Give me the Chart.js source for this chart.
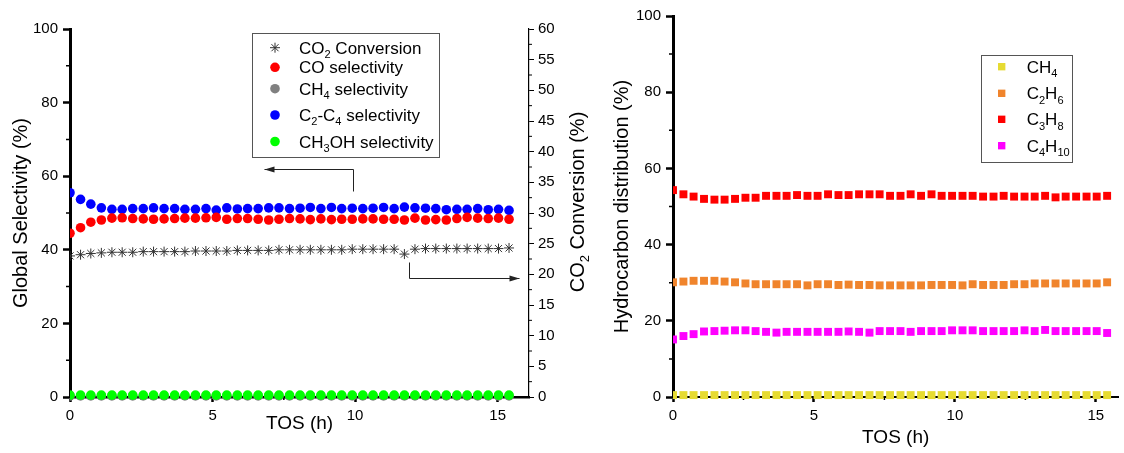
<!DOCTYPE html>
<html>
<head>
<meta charset="utf-8">
<script src="https://cdn.jsdelivr.net/npm/chart.js@4.4.0/dist/chart.umd.min.js"></script>
<style>
  html, body { margin: 0; padding: 0; background: #fff; }
  #wrap { position: relative; width: 1124px; height: 453px; }
  #left-canvas { position: absolute; left: 0; top: 0; }
  #right-canvas { position: absolute; left: 600px; top: 0; }
</style>
</head>
<body>
<div id="wrap">
  <canvas id="left-canvas" width="600" height="453"></canvas>
  <canvas id="right-canvas" width="524" height="453"></canvas>
</div>
<script>
// time on stream (h), one sample every ~22 min
const tos = [0, 0.37, 0.73, 1.1, 1.47, 1.83, 2.2, 2.57, 2.93, 3.3,
  3.67, 4.03, 4.4, 4.77, 5.13, 5.5, 5.87, 6.23, 6.6, 6.97,
  7.33, 7.7, 8.07, 8.43, 8.8, 9.17, 9.53, 9.9, 10.27, 10.63,
  11.0, 11.37, 11.73, 12.1, 12.47, 12.83, 13.2, 13.57, 13.93, 14.3,
  14.67, 15.03, 15.4];

// left panel (%)
const co2Conversion = [23.0, 23.2, 23.4, 23.5, 23.6, 23.6, 23.6, 23.7, 23.7, 23.7,
  23.7, 23.7, 23.8, 23.8, 23.8, 23.8, 23.9, 23.9, 23.9, 23.9,
  24.0, 24.0, 24.0, 24.0, 24.0, 24.0, 24.0, 24.1, 24.1, 24.1,
  24.1, 24.1, 23.3, 24.1, 24.2, 24.2, 24.2, 24.2, 24.2, 24.2,
  24.2, 24.2, 24.3];
const coSel = [44.5, 46.0, 47.5, 48.1, 48.6, 48.7, 48.5, 48.4, 48.3, 48.4,
  48.5, 48.6, 48.6, 48.7, 48.8, 48.3, 48.5, 48.5, 48.3, 48.1,
  48.3, 48.5, 48.4, 48.2, 48.4, 48.2, 48.3, 48.3, 48.4, 48.4,
  48.3, 48.3, 48.1, 48.6, 48.1, 48.2, 48.1, 48.5, 48.8, 48.6,
  48.5, 48.6, 48.3];
const ch4Sel = [0.3, 0.3, 0.3, 0.3, 0.3, 0.3, 0.3, 0.3, 0.3, 0.3,
  0.3, 0.3, 0.3, 0.3, 0.3, 0.3, 0.3, 0.3, 0.3, 0.3,
  0.3, 0.3, 0.3, 0.3, 0.3, 0.3, 0.3, 0.3, 0.3, 0.3,
  0.3, 0.3, 0.3, 0.3, 0.3, 0.3, 0.3, 0.3, 0.3, 0.3,
  0.3, 0.3, 0.3];
const c2c4Sel = [55.5, 53.7, 52.4, 51.4, 51.0, 51.0, 51.2, 51.2, 51.4, 51.2,
  51.2, 51.0, 51.0, 51.2, 50.8, 51.4, 51.1, 51.2, 51.2, 51.4,
  51.4, 51.2, 51.3, 51.5, 51.2, 51.5, 51.2, 51.3, 51.2, 51.3,
  51.5, 51.2, 51.6, 51.4, 51.3, 51.2, 50.9, 51.0, 51.0, 51.2,
  50.9, 51.0, 50.7];
const ch3ohSel = [0.5, 0.5, 0.5, 0.5, 0.5, 0.5, 0.5, 0.5, 0.5, 0.5,
  0.5, 0.5, 0.5, 0.5, 0.5, 0.5, 0.5, 0.5, 0.5, 0.5,
  0.5, 0.5, 0.5, 0.5, 0.5, 0.5, 0.5, 0.5, 0.5, 0.5,
  0.5, 0.5, 0.5, 0.5, 0.5, 0.5, 0.5, 0.5, 0.5, 0.5,
  0.5, 0.5, 0.5];

// right panel (%)
const ch4Dist = [0.5, 0.5, 0.5, 0.5, 0.5, 0.5, 0.5, 0.5, 0.5, 0.5,
  0.5, 0.5, 0.5, 0.5, 0.5, 0.5, 0.5, 0.5, 0.5, 0.5,
  0.5, 0.5, 0.5, 0.5, 0.5, 0.5, 0.5, 0.5, 0.5, 0.5,
  0.5, 0.5, 0.5, 0.5, 0.5, 0.5, 0.5, 0.5, 0.5, 0.5,
  0.5, 0.5, 0.5];
const c2h6Dist = [30.1, 30.3, 30.5, 30.5, 30.5, 30.3, 30.1, 29.8, 29.6, 29.6,
  29.6, 29.6, 29.6, 29.3, 29.6, 29.6, 29.4, 29.5, 29.4, 29.4,
  29.3, 29.3, 29.3, 29.3, 29.3, 29.4, 29.4, 29.4, 29.3, 29.6,
  29.4, 29.4, 29.4, 29.6, 29.6, 29.8, 29.8, 29.8, 29.8, 29.8,
  29.8, 29.8, 30.1];
const c3h8Dist = [54.3, 53.2, 52.6, 52.0, 51.8, 51.8, 52.0, 52.3, 52.3, 52.8,
  52.8, 52.8, 53.0, 52.8, 52.8, 53.2, 53.0, 53.0, 53.2, 53.2,
  53.2, 52.8, 52.8, 53.2, 52.8, 53.2, 52.8, 52.8, 52.8, 52.8,
  52.6, 52.6, 52.8, 52.6, 52.6, 52.6, 52.8, 52.4, 52.6, 52.6,
  52.6, 52.6, 52.8];
const c4h10Dist = [15.1, 16.0, 16.5, 17.2, 17.3, 17.4, 17.5, 17.5, 17.3, 17.1,
  16.9, 17.1, 17.1, 17.1, 17.1, 17.1, 17.1, 17.2, 17.1, 16.9,
  17.3, 17.3, 17.3, 17.1, 17.3, 17.3, 17.3, 17.5, 17.5, 17.5,
  17.3, 17.3, 17.3, 17.3, 17.5, 17.3, 17.6, 17.3, 17.3, 17.3,
  17.3, 17.3, 16.8];

// ticks
const xTicks = [0, 5, 10, 15];
const xMinor = [2.5, 7.5, 12.5];
const pctTicks = [0, 20, 40, 60, 80, 100];
const pctMinor = [10, 30, 50, 70, 90];
const convTicks = [0, 5, 10, 15, 20, 25, 30, 35, 40, 45, 50, 55, 60];
const convMinor = [2.5, 7.5, 12.5, 17.5, 22.5, 27.5, 32.5, 37.5, 42.5, 47.5, 52.5, 57.5];

const FONT = "'Liberation Sans', Arial, Helvetica, sans-serif";
Chart.defaults.font.family = FONT;
Chart.defaults.color = '#000';

const pts = ys => tos.map((t, i) => ({x: t, y: ys[i]}));
const fixTicks = list => scale => { scale.ticks = list.map(v => ({value: v})); };

// text with unicode subscript digits drawn as small lowered digits
const SUBS = '₀₁₂₃₄₅₆₇₈₉';
function runs(text) {
  const out = [];
  for (const ch of text) {
    const k = SUBS.indexOf(ch);
    const sub = k >= 0;
    const c = sub ? String(k) : ch;
    const last = out[out.length - 1];
    if (last && last.sub === sub) last.text += c;
    else out.push({text: c, sub});
  }
  return out;
}
function richWidth(ctx, text, size) {
  let w = 0;
  for (const r of runs(text)) {
    ctx.font = (r.sub ? size * 0.65 : size) + 'px ' + FONT;
    w += ctx.measureText(r.text).width;
  }
  return w;
}
function drawRich(ctx, text, x, y, size) {
  ctx.textAlign = 'left';
  ctx.textBaseline = 'alphabetic';
  let cx = x;
  for (const r of runs(text)) {
    ctx.font = (r.sub ? size * 0.65 : size) + 'px ' + FONT;
    ctx.fillText(r.text, cx, r.sub ? y + size * 0.25 : y);
    cx += ctx.measureText(r.text).width;
  }
}

const minorTicks = {
  id: 'minorTicks',
  beforeDatasetsDraw(chart, args, opts) {
    const ctx = chart.ctx;
    ctx.save();
    ctx.strokeStyle = '#000';
    for (const m of opts.items || []) {
      const s = chart.scales[m.axis];
      ctx.lineWidth = m.width;
      ctx.beginPath();
      m.values.forEach(v => {
        const p = s.getPixelForValue(v);
        if (s.position === 'bottom') { ctx.moveTo(p, s.top); ctx.lineTo(p, s.top + m.length); }
        else if (s.position === 'left') { ctx.moveTo(s.right - m.length, p); ctx.lineTo(s.right, p); }
        else { ctx.moveTo(s.left, p); ctx.lineTo(s.left + m.length, p); }
      });
      ctx.stroke();
    }
    ctx.restore();
  }
};

const boxLegend = {
  id: 'boxLegend',
  afterDatasetsDraw(chart, args, opts) {
    if (!opts.box) return;
    const ctx = chart.ctx;
    const [bx, by, bw, bh] = opts.box;
    ctx.save();
    ctx.fillStyle = '#fff';
    ctx.fillRect(bx, by, bw, bh);
    ctx.strokeStyle = '#555';
    ctx.lineWidth = 1;
    ctx.strokeRect(bx + 0.5, by + 0.5, bw, bh);
    chart.data.datasets.forEach((ds, i) => {
      const y = opts.rows[i];
      ctx.fillStyle = ds.backgroundColor;
      ctx.strokeStyle = ds.borderColor;
      ctx.lineWidth = ds.borderWidth;
      Chart.helpers.drawPoint(ctx, {pointStyle: ds.pointStyle, rotation: 0,
        radius: opts.radius || ds.pointRadius, borderWidth: ds.borderWidth}, opts.markerX, y);
      ctx.fillStyle = '#000';
      drawRich(ctx, ds.label, opts.textX, y + opts.size * 0.36, opts.size);
    });
    ctx.restore();
  }
};

const arrows = {
  id: 'arrows',
  afterDatasetsDraw(chart, args, opts) {
    const ctx = chart.ctx;
    ctx.save();
    ctx.strokeStyle = '#222';
    ctx.fillStyle = '#222';
    ctx.lineWidth = 1;
    for (const a of opts.items || []) {
      const xs = chart.scales.x, ys = chart.scales[a.axis];
      const p = a.path.map(([x, y]) => [Math.round(xs.getPixelForValue(x)) + 0.5, Math.round(ys.getPixelForValue(y)) + 0.5]);
      ctx.beginPath();
      p.forEach(([x, y], i) => (i ? ctx.lineTo(x, y) : ctx.moveTo(x, y)));
      ctx.stroke();
      const [x1, y1] = p[p.length - 2], [x2, y2] = p[p.length - 1];
      const ang = Math.atan2(y2 - y1, x2 - x1), L = 10, W = 3;
      ctx.beginPath();
      ctx.moveTo(x2, y2);
      ctx.lineTo(x2 - L * Math.cos(ang) + W * Math.sin(ang), y2 - L * Math.sin(ang) - W * Math.cos(ang));
      ctx.lineTo(x2 - L * Math.cos(ang) - W * Math.sin(ang), y2 - L * Math.sin(ang) + W * Math.cos(ang));
      ctx.closePath();
      ctx.fill();
    }
    ctx.restore();
  }
};

const richAxisTitle = {
  id: 'richAxisTitle',
  afterDraw(chart, args, opts) {
    if (!opts.text) return;
    const ctx = chart.ctx;
    const s = chart.scales[opts.axis];
    const w = richWidth(ctx, opts.text, opts.size);
    ctx.save();
    ctx.fillStyle = '#000';
    ctx.translate(s.right - opts.offset, (s.top + s.bottom) / 2 + opts.shift);
    ctx.rotate(-Math.PI / 2);
    drawRich(ctx, opts.text, -w / 2, opts.size * 0.35, opts.size);
    ctx.restore();
  }
};

function axisStyle(lineW, tickLen, tickW) {
  return {
    grid: {drawOnChartArea: false, drawTicks: true, tickLength: tickLen, tickWidth: tickW, tickColor: '#000'},
    border: {display: true, color: '#000', width: lineW}
  };
}

function dotSet(label, data, color, style, radius, extra) {
  return Object.assign({
    label, data: pts(data), pointStyle: style, pointRadius: radius,
    backgroundColor: color, borderColor: color, borderWidth: 0,
    clip: {left: 0, top: false, right: false, bottom: false}
  }, extra || {});
}

new Chart(document.getElementById('left-canvas'), {
  type: 'scatter',
  data: {
    datasets: [
      dotSet('CO₂ Conversion', co2Conversion, '#333', 'star', 5, {yAxisID: 'y2', borderWidth: 1, order: 0}),
      dotSet('CO selectivity', coSel, '#ff0000', 'circle', 4.8, {order: 1}),
      dotSet('CH₄ selectivity', ch4Sel, '#808080', 'circle', 4.8, {order: 5}),
      dotSet('C₂-C₄ selectivity', c2c4Sel, '#0000ff', 'circle', 4.8, {order: 2}),
      dotSet('CH₃OH selectivity', ch3ohSel, '#00ff00', 'circle', 4.8, {order: 3})
    ]
  },
  options: {
    responsive: false,
    animation: false,
    events: [],
    layout: {padding: {top: 29, left: 0, right: 0, bottom: 0}},
    scales: {
      x: Object.assign({
        type: 'linear', min: 0, max: 16.1,
        afterFit: s => { s.height = 56; },
        afterBuildTicks: fixTicks(xTicks),
        ticks: {font: {size: 15}, padding: 5, color: '#000'},
        title: {display: true, text: 'TOS (h)', font: {size: 19}, color: '#000', padding: {top: 0, bottom: 17.6}}
      }, axisStyle(2.5, 5, 2.5)),
      y: Object.assign({
        min: 0, max: 100, position: 'left',
        afterFit: s => { s.width = 70; },
        afterBuildTicks: fixTicks(pctTicks),
        ticks: {font: {size: 15}, padding: 5, color: '#000'},
        title: {display: true, text: 'Global Selectivity (%)', font: {size: 20}, color: '#000', padding: {top: 9.7, bottom: 0}}
      }, axisStyle(3, 7, 2.5)),
      y2: Object.assign({
        min: 0, max: 60, position: 'right',
        afterFit: s => { s.width = 71; },
        afterBuildTicks: fixTicks(convTicks),
        ticks: {font: {size: 15}, padding: 4, color: '#000'}
      }, axisStyle(1.2, 5, 1))
    },
    plugins: {
      legend: {display: false},
      tooltip: {enabled: false},
      minorTicks: {items: [
        {axis: 'x', values: xMinor, length: 3, width: 1.5},
        {axis: 'y', values: pctMinor, length: 4, width: 1.5},
        {axis: 'y2', values: convMinor, length: 3, width: 1}
      ]},
      boxLegend: {box: [252, 33, 187, 124], markerX: 275, textX: 299, size: 17,
        rows: [47.7, 67.3, 88.7, 115, 141.5]},
      arrows: {items: [
        {axis: 'y', path: [[9.92, 56.1], [9.92, 62.0], [6.8, 62.0]]},
        {axis: 'y2', path: [[11.88, 21.96], [11.88, 19.35], [15.74, 19.35]]}
      ]},
      richAxisTitle: {axis: 'y2', text: 'CO₂ Conversion (%)', size: 20, offset: 23, shift: -11}
    }
  },
  plugins: [minorTicks, boxLegend, arrows, richAxisTitle]
});

new Chart(document.getElementById('right-canvas'), {
  type: 'scatter',
  data: {
    datasets: [
      dotSet('CH₄', ch4Dist, '#e6db32', 'rect', 5.6),
      dotSet('C₂H₆', c2h6Dist, '#f0842c', 'rect', 5.6),
      dotSet('C₃H₈', c3h8Dist, '#ff0000', 'rect', 5.6),
      dotSet('C₄H₁₀', c4h10Dist, '#ff00ff', 'rect', 5.6)
    ]
  },
  options: {
    responsive: false,
    animation: false,
    events: [],
    layout: {padding: {top: 16, left: 0, right: 0, bottom: 0}},
    scales: {
      x: Object.assign({
        type: 'linear', min: 0, max: 15.8,
        afterFit: s => { s.height = 56; },
        afterBuildTicks: fixTicks(xTicks),
        ticks: {font: {size: 15}, padding: 5, color: '#000'},
        title: {display: true, text: 'TOS (h)', font: {size: 19}, color: '#000', padding: {top: 0, bottom: 3.6}}
      }, axisStyle(2, 5, 2.5)),
      y: Object.assign({
        min: 0, max: 100, position: 'left',
        afterFit: s => { s.width = 73; },
        afterBuildTicks: fixTicks(pctTicks),
        ticks: {font: {size: 15}, padding: 5, color: '#000'},
        title: {display: true, text: 'Hydrocarbon distribution (%)', font: {size: 20}, color: '#000', padding: {top: 10, bottom: 0}}
      }, axisStyle(3, 7, 2.5))
    },
    plugins: {
      legend: {display: false},
      tooltip: {enabled: false},
      minorTicks: {items: [
        {axis: 'x', values: xMinor, length: 3, width: 1.5},
        {axis: 'y', values: pctMinor, length: 4, width: 1.5}
      ]},
      boxLegend: {box: [381, 55, 91, 107], markerX: 401.7, textX: 426.7, size: 17, radius: 5.2,
        rows: [66.7, 93.3, 119.3, 145.7]}
    }
  },
  plugins: [minorTicks, boxLegend]
});
</script>
</body>
</html>
